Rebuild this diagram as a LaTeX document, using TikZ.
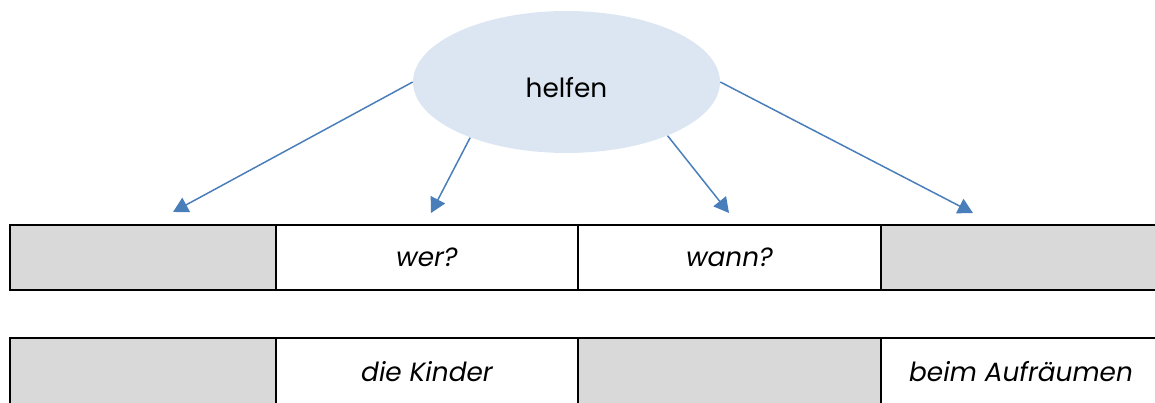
\documentclass[tikz,border=0pt]{standalone}
\usepackage{fontspec}
\setmainfont{Poppins}
\usepackage{tikz}
\usetikzlibrary{arrows.meta,shapes.geometric}
\definecolor{ovalblue}{HTML}{DCE6F2}
\definecolor{arrowblue}{HTML}{4A7EBB}
\definecolor{cellgray}{HTML}{D9D9D9}
\tikzset{
  cell/.style={rectangle,draw=black,line width=1.1pt,inner sep=0pt,minimum width=#1,font=\fontsize{15}{18}\selectfont\itshape},
  gray cell/.style={cell=#1,fill=cellgray},
  link/.style={draw=arrowblue,line width=0.85pt,-{Triangle[length=0.3cm,width=0.32cm]}}
}
\begin{document}
\begin{tikzpicture}[x=0.02cm,y=-0.02cm]
\clip (0,0) rectangle (1155,402);
\node[ellipse,fill=ovalblue,inner sep=0pt,minimum width=6.14cm,minimum height=2.84cm,text height=0.62cm,font=\fontsize{15}{18}\selectfont] (help) at (566.5,82) {helfen};
\node[gray cell=5.32cm,minimum height=1.3cm] (a1) at (143,257.5) {};
\node[cell=6.04cm,minimum height=1.3cm] (a2) at (427,257.5) {wer?};
\node[cell=6.06cm,minimum height=1.3cm] (a3) at (729.5,257.5) {wann?};
\node[gray cell=5.6cm,minimum height=1.3cm] (a4) at (1021,257.5) {};
\node[gray cell=5.32cm,minimum height=1.34cm] (b1) at (143,371.5) {};
\node[cell=6.04cm,minimum height=1.34cm] (b2) at (427,371.5) {die Kinder};
\node[gray cell=6.06cm,minimum height=1.34cm] (b3) at (729.5,371.5) {};
\node[cell=5.6cm,minimum height=1.34cm] (b4) at (1021,371.5) {beim Aufräumen};
\coordinate (t1) at (173,212);
\coordinate (t2) at (431,213);
\coordinate (t3) at (729,213);
\coordinate (t4) at (973,213);
\draw[link] (help.180) -- (t1);
\draw[link] (help.210.6) -- (t2);
\draw[link] (help.332.5) -- (t3);
\draw[link] (help.0) -- (t4);
\end{tikzpicture}
\end{document}
